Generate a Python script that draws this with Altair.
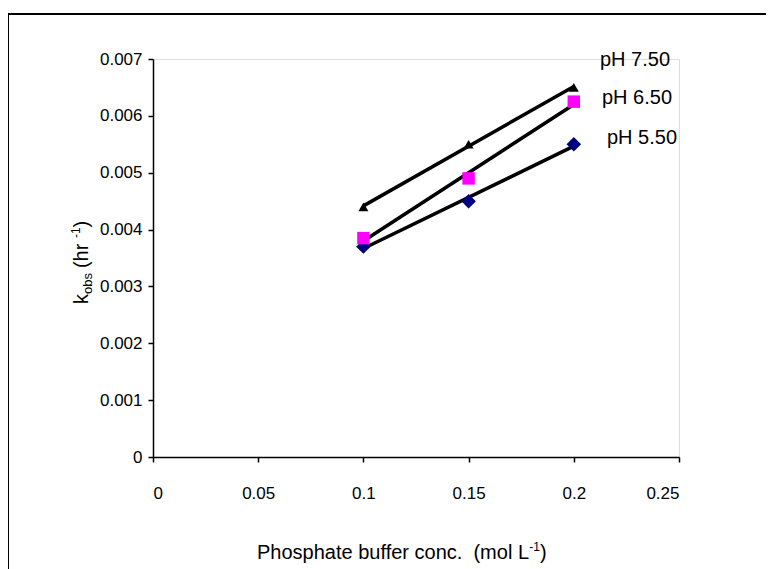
import altair as alt
import pandas as pd

# ---- data ----
conc = [0.1, 0.15, 0.2]
k_ph550 = [0.0037, 0.0045, 0.0055]
k_ph650 = [0.00385, 0.0049, 0.00625]
k_ph750 = [0.0044, 0.0055, 0.0065]
series_names = ["pH 5.50", "pH 6.50", "pH 7.50"]
x_ticks = [0, 0.05, 0.1, 0.15, 0.2, 0.25]
y_ticks = [0, 0.001, 0.002, 0.003, 0.004, 0.005, 0.006, 0.007]

rows = []
for name, vals in zip(series_names, [k_ph550, k_ph650, k_ph750]):
    for c, v in zip(conc, vals):
        rows.append({"conc": c, "k": v, "series": name})
df = pd.DataFrame(rows)

FONT = "Liberation Sans"
NB = "\u00a0"
W, H = 526, 398
PAD_L, PAD_T = 145, 51

# Arial advance widths (em)
AW = {c: 0.556 for c in "0123456789abdeghnopqu"}
AW.update({" ": 0.278, NB: 0.278, ".": 0.278, "(": 0.333, ")": 0.333, "-": 0.333,
           "c": 0.5, "s": 0.5, "k": 0.5, "f": 0.278, "t": 0.278, "r": 0.333,
           "l": 0.222, "m": 0.833, "P": 0.667, "L": 0.556, "H": 0.722})


def tw(s, size):
    return sum(AW.get(ch, 0.556) for ch in s) * size


xs = alt.Scale(domain=[0, 0.25], nice=False)
ys = alt.Scale(domain=[0, 0.007], nice=False)

base = alt.Chart(df)

lines = base.transform_regression(
    "conc", "k", groupby=["series"], extent=[0.1, 0.2]
).mark_line(color="black", strokeWidth=3.5).encode(
    x=alt.X("conc:Q", scale=xs,
            axis=alt.Axis(values=x_ticks, format="~g", title=None, grid=False,
                          domainColor="black", tickColor="black", tickSize=5,
                          labelColor="black", labelFont=FONT, labelFontSize=17,
                          labelPadding=23, domainWidth=1.5, tickWidth=1.5)),
    y=alt.Y("k:Q", scale=ys,
            axis=alt.Axis(values=y_ticks, format="~g", title=None, grid=False,
                          domainColor="black", tickColor="black", tickSize=5,
                          labelColor="black", labelFont=FONT, labelFontSize=17,
                          labelPadding=6, domainWidth=1.5, tickWidth=1.5)),
    detail="series:N",
)

shape_scale = alt.Scale(domain=series_names, range=["diamond", "square", "triangle-up"])
color_scale = alt.Scale(domain=series_names, range=["#000080", "#FF00FF", "#000000"])
size_scale = alt.Scale(domain=series_names, range=[210, 100, 320])

points = base.mark_point(filled=True, opacity=1).encode(
    x=alt.X("conc:Q", scale=xs),
    y=alt.Y("k:Q", scale=ys),
    shape=alt.Shape("series:N", scale=shape_scale, legend=None),
    color=alt.Color("series:N", scale=color_scale, legend=None),
    size=alt.Size("series:N", scale=size_scale, legend=None),
)

one = alt.Data(values=[{"a": 1}])


def txt(text, x, y, size, angle=0, align="left", baseline="alphabetic"):
    return alt.Chart(one).mark_text(
        text=text, font=FONT, fontSize=size, color="black", align=align,
        baseline=baseline, angle=angle
    ).encode(x=alt.value(x), y=alt.value(y))


layers = [lines, points]

# series labels
label_pos = [(454, 79), (449, 39), (447, 1)]
for name, (lx, ly) in zip(series_names, label_pos):
    layers.append(txt(name, lx, ly, 20, baseline="middle"))

# x title: Phosphate buffer conc.  (mol L^-1)
XT = 20
xt_main = "Phosphate buffer conc." + NB + NB + "(mol L"
x0, yb = 104, 500
layers.append(txt(xt_main, x0, yb, XT))
x1 = x0 + tw(xt_main, XT)
layers.append(txt("-1", x1, yb - 8, 12))
x2 = x1 + tw("-1", 12)
layers.append(txt(")", x2, yb, XT))

# y title: k_obs (hr ^-1), rotated
YT = 20
yx = -65
yy = 245
layers.append(txt("k", yx, yy, YT, angle=270))
yy -= tw("k", YT)
layers.append(txt("obs", yx + 4, yy, 13, angle=270))
yy -= tw("obs", 13) + 5
s3 = "(hr" + NB
layers.append(txt(s3, yx, yy, YT, angle=270))
yy -= tw(s3, YT)
layers.append(txt("-1", yx - 8, yy, 12, angle=270))
yy -= tw("-1", 12)
layers.append(txt(")", yx, yy, YT, angle=270))

# outer frame (top and left edges)
frame_top = alt.Chart(one).mark_rule(color="black", strokeWidth=2).encode(
    x=alt.value(-PAD_L), x2=alt.value(W + 120), y=alt.value(-45))
frame_left = alt.Chart(one).mark_rule(color="black", strokeWidth=2).encode(
    x=alt.value(-PAD_L), y=alt.value(-45), y2=alt.value(H + 150))
layers += [frame_top, frame_left]

chart = alt.layer(*layers).properties(
    width=W, height=H,
    autosize=alt.AutoSizeParams(type="none"),
    padding={"left": PAD_L, "top": PAD_T, "right": 774 - 16 - PAD_L - W,
             "bottom": 569 - 8 - PAD_T - H},
).configure_view(stroke=None).configure(background="white")

chart.save("out.html", embed_options={"renderer": "svg", "actions": False})
